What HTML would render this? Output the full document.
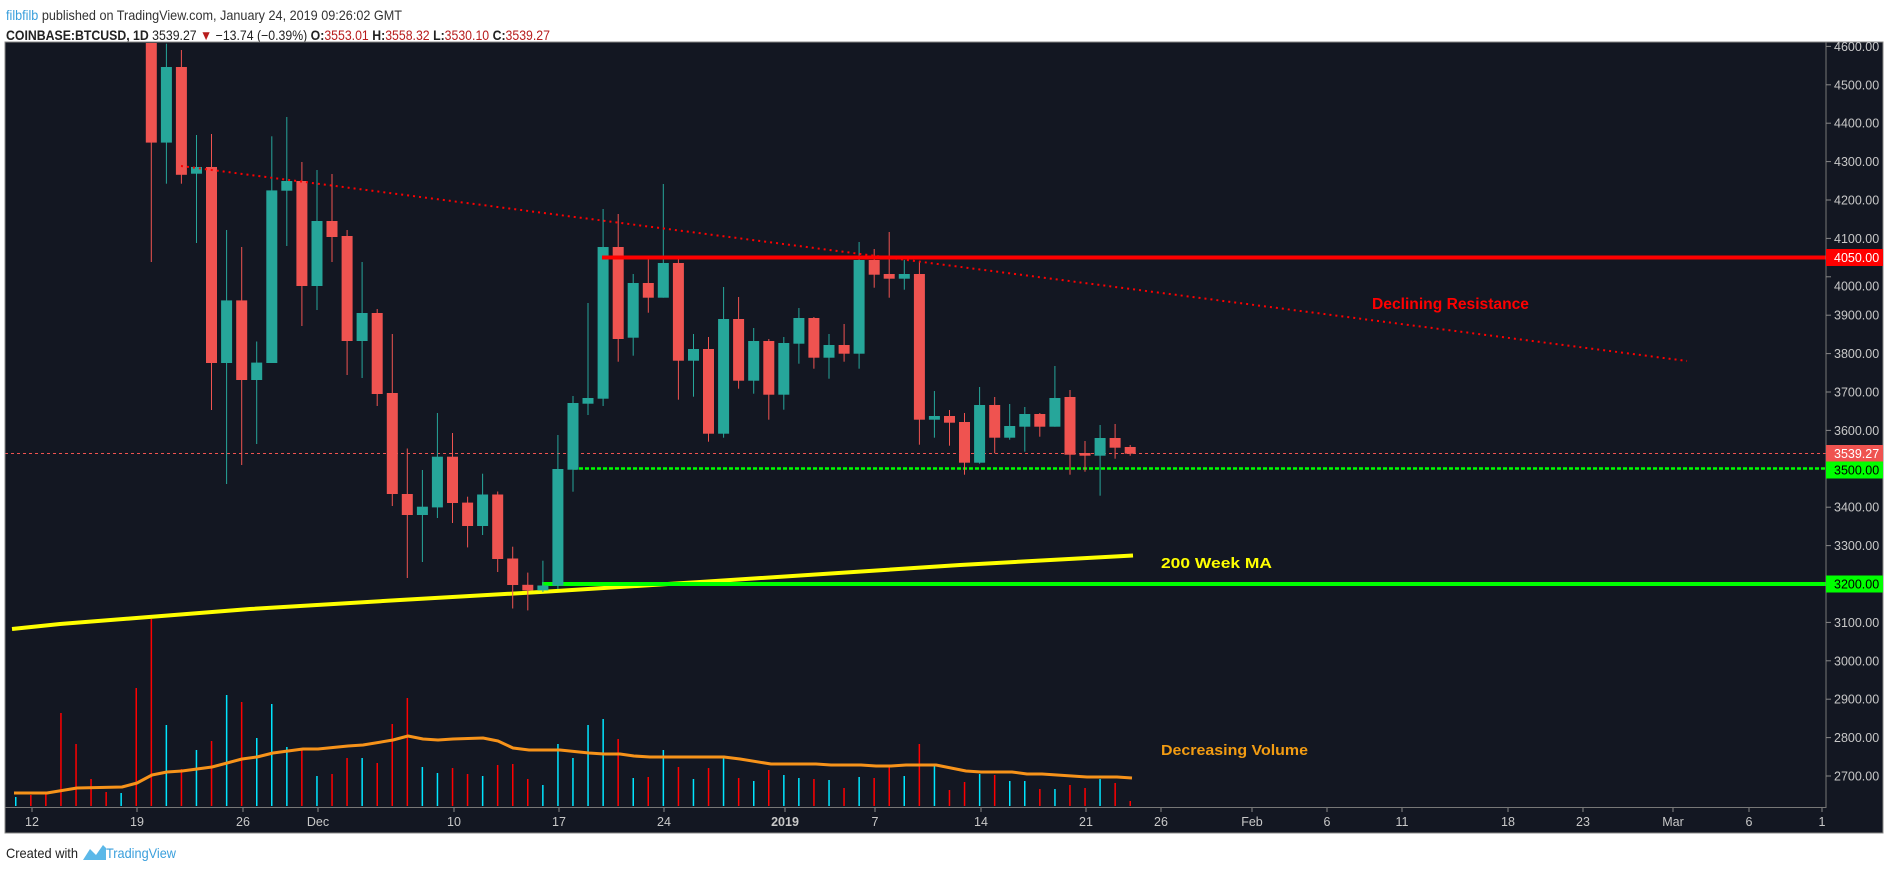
<!DOCTYPE html>
<html><head><meta charset="utf-8"><style>
html,body{margin:0;padding:0;background:#fff;}
svg{display:block;}
</style></head><body>
<svg id="s" width="1889" height="869" viewBox="0 0 1889 869" xmlns="http://www.w3.org/2000/svg" font-family="Liberation Sans, sans-serif">
<rect x="0" y="0" width="1889" height="869" fill="#ffffff"/>
<!-- header -->
<text x="6" y="20" font-size="14" textLength="396" lengthAdjust="spacingAndGlyphs"><tspan fill="#3a9fdc">filbfilb</tspan><tspan fill="#333"> published on TradingView.com, January 24, 2019 09:26:02 GMT</tspan></text>
<text x="6" y="40" font-size="13.5" textLength="544" lengthAdjust="spacingAndGlyphs" fill="#222"><tspan font-weight="bold">COINBASE:BTCUSD, 1D</tspan> 3539.27 <tspan fill="#b71c1c">▼</tspan> −13.74 (−0.39%) <tspan font-weight="bold">O:</tspan><tspan fill="#b71c1c">3553.01</tspan> <tspan font-weight="bold">H:</tspan><tspan fill="#b71c1c">3558.32</tspan> <tspan font-weight="bold">L:</tspan><tspan fill="#b71c1c">3530.10</tspan> <tspan font-weight="bold">C:</tspan><tspan fill="#b71c1c">3539.27</tspan></text>
<!-- panel -->
<rect x="5" y="42" width="1878" height="791" fill="#131722" stroke="#888" stroke-width="1"/>
<line x1="1826" y1="42" x2="1826" y2="808" stroke="#777" stroke-width="1"/>
<line x1="5" y1="807.5" x2="1826" y2="807.5" stroke="#777" stroke-width="1"/>
<defs><clipPath id="c"><rect x="5.5" y="43" width="1820" height="764"/></clipPath></defs>
<g id="plot" clip-path="url(#c)"></g>
<g id="axis" font-size="12.5" fill="#c8c8c8"></g>
<g id="time" font-size="12.5" fill="#c8c8c8" text-anchor="middle"></g>
<!-- annotations -->
<text x="1372" y="309" font-size="16" font-weight="bold" fill="#ff0000" textLength="157" lengthAdjust="spacingAndGlyphs">Declining Resistance</text>
<text x="1161" y="568" font-size="15" font-weight="bold" fill="#ffff00" textLength="111" lengthAdjust="spacingAndGlyphs">200 Week MA</text>
<text x="1161" y="755" font-size="15" font-weight="bold" fill="#f39c12" textLength="147" lengthAdjust="spacingAndGlyphs">Decreasing Volume</text>
<!-- footer -->
<text x="6" y="858" font-size="14" fill="#222" textLength="72" lengthAdjust="spacingAndGlyphs">Created with</text>
<path d="M83 860 L90 849 L96 855 L103 845 L106 848 L106 860 Z" fill="#5bb8e8"/>
<text x="106" y="858" font-size="14" fill="#3a9fdc" textLength="70" lengthAdjust="spacingAndGlyphs">TradingView</text>
</svg>
<script>
var NS="http://www.w3.org/2000/svg";
function el(p,t,a,txt){var e=document.createElementNS(NS,t);for(var k in a)e.setAttribute(k,a[k]);if(txt!==undefined)e.textContent=txt;p.appendChild(e);return e;}
var plot=document.getElementById('plot'),axis=document.getElementById('axis'),time=document.getElementById('time');
var G='#26a69a',R='#ef5350';
// [color, bodyTop, bodyBot, wickTop, wickBot]
var C=[
['r',30,142.6,30,262],['g',67,142.6,43.7,183.7],['r',67,174.8,50,183.7],['g',167,173.7,135,243],
['r',167,363,134,410],['g',300.4,363,230,484],['r',300.4,380,247,465],['g',362.6,380,341.5,444],
['g',190.4,363,136.3,363],['g',181,190.7,117,246],['r',181,286,162,326],['g',221,286,170,310],
['r',221,237,174,262],['r',236,341,230,375],['g',313,341,262,378],['r',313,394,309,406],
['r',393,494,334,506],['r',494,515,448.5,578],['g',506.7,515,470,562],['g',456.7,507.4,413,518],
['r',456.7,503,433,523],['r',502.6,526,496.7,547.4],['g',494.5,526,473.7,535],['r',494.5,559,491.5,572],
['r',558.5,585,546.7,608.5],['r',584.8,590.4,572.6,610.4],['g',585.5,590.4,560.7,592],
['g',469,585.7,435,589],['g',403,469.7,396,491.7],['g',398,403.7,303,415],['g',247,398.7,209,406],
['r',247,339,214,361.7],['g',283,337.7,274,355.7],['r',283,297.7,259,312.7],['g',263,297.7,184,297.7],
['r',263,360.7,259,399.7],['g',349,360.7,334,396.7],['r',349,433.7,337,441.7],['g',319,433.7,287,437.7],
['r',319,380.7,297,388.7],['g',341,380.7,328,393.7],['r',341,394.7,339,419.7],['g',343,394.7,337,409.7],
['g',318,343.7,308,363.7],['r',318,357.7,317,368.7],['g',345,357.7,334,378.7],['r',345,353.7,324,361.7],
['g',260,353.7,242,368.7],['r',260,274.7,249,287.7],['r',274,278.7,232,297.7],['g',274,278.7,260,289.7],
['r',274,419.7,262,444.7],['g',416,419.7,391,437.7],['r',416,422.7,410,445.7],
['r',422,462.7,413,474.7],['g',405,462.7,387,463.7],['r',405,437.7,397,453.3],['g',426,437.7,404,439.7],
['g',414,426.7,407,451.7],['r',414,426.7,413,436.7],['g',398,426.7,366,426.7],['r',397,454.7,390,474.7],
['r',453,455.7,441,471.7],['g',438,455.7,425,495.7],['r',438,447.7,424,458.7],['r',447,453.7,445,455.7]];
function cx(i){return 151.3+15.06*i;}
// volume bars (k=-9..65): [color, topY]
var V=[['c',797],['r',795],['r',793],['r',713],['r',744],['r',779],['r',792],['c',793],['r',688],['r',619],
['c',725],['r',769],['c',750],['r',741],['c',695],['r',702],['c',738],['c',704],['c',747],['r',750],
['c',776],['r',774],['r',758],['c',758],['r',763],['r',724],['r',698],['c',767],['c',773],['r',768],
['r',774],['c',776],['r',765],['r',764],['r',779],['c',785],['c',744],
['c',758],['c',725],['c',719],['r',739],['c',778],['r',777],['c',750],['r',767],['c',779],['r',768],
['c',758],['r',778],['c',781],['r',770],['c',775],['c',778],['r',779],['c',780],['r',788],['c',777],
['r',778],['r',767],['c',776],['r',744],['c',765],['r',790],['r',782],['c',774],['r',775],['c',781],
['c',781],['r',789],['c',789],['r',785],['r',788],['c',779],['r',783],['r',801]];
for(var j=0;j<V.length;j++){var x=cx(j-9);el(plot,'rect',{x:(x-0.75).toFixed(1),y:V[j][1],width:1.5,height:(806-V[j][1]),fill:V[j][0]=='c'?'#00e5ff':'#ff0000'});}
// volume MA
var ma=[[14,793],[47,793],[77,788],[122,787],[137,783],[152,775],[167,772],[182,771],[212,767],[242,759],[257,757],[273,753],[303,749],[318,749],[348,746],[363,745],[393,740],[408,736],[423,739],[438,740],[453,739],[483,738],[498,741],[513,748],[529,750],[560,750],[589,753],[604,754],[620,754],[634,756],[650,757],[724,757],[740,759],[771,764],[786,764],[816,764],[831,765],[861,765],[876,766],[891,766],[906,765],[936,765],[951,768],[966,771],[981,772],[1012,772],[1027,774],[1042,774],[1087,777],[1117,777],[1132,778]];
el(plot,'polyline',{points:ma.map(function(p){return p.join(',')}).join(' '),fill:'none',stroke:'#f7931a',"stroke-width":3,"stroke-linejoin":"round"});
// yellow MA
el(plot,'polyline',{points:'12,629 60,624 130,618.5 250,609 400,600 540,592 700,582 960,565 1133,555.5',fill:'none',stroke:'#ffff00',"stroke-width":4});
// horizontal levels
el(plot,'line',{x1:5,y1:453.5,x2:1826,y2:453.5,stroke:'#ef5350',"stroke-width":1,"stroke-dasharray":"3,3"});
el(plot,'line',{x1:573,y1:468.5,x2:1826,y2:468.5,stroke:'#00ff00',"stroke-width":2.5,"stroke-dasharray":"4,2"});
el(plot,'line',{x1:542,y1:584,x2:1826,y2:584,stroke:'#00ff00',"stroke-width":4});
// candles
for(var i=0;i<C.length;i++){var c=C[i],x=cx(i),col=c[0]=='g'?G:R;
el(plot,'rect',{x:(x-0.5).toFixed(1),y:c[3],width:1,height:(c[4]-c[3]),fill:col});
el(plot,'rect',{x:(x-5.5).toFixed(1),y:c[1],width:11,height:Math.max(1,c[2]-c[1]),fill:col});}
el(plot,'line',{x1:602,y1:257.5,x2:1826,y2:257.5,stroke:'#ff0000',"stroke-width":4});
el(plot,'line',{x1:181,y1:166,x2:1687,y2:361,stroke:'#ff0000',"stroke-width":2,"stroke-dasharray":"2,4"});
// price axis
for(var p=4600;p>=2700;p-=100){var y=200+(4200-p)*0.384;
el(axis,'line',{x1:1826,y1:y,x2:1831,y2:y,stroke:'#888'});
if(p==4000)y+=9;
el(axis,'text',{x:1834,y:y+4.5},p.toFixed(2));}
function lab(y,bg,fg,t){el(axis,'rect',{x:1826,y:y-8.5,width:57,height:17,fill:bg});el(axis,'text',{x:1834,y:y+4.5,fill:fg},t);}
lab(257.5,'#ff0000','#ffffff','4050.00');
lab(453.5,'#ef5350','#ffffff','3539.27');
lab(470,'#00ff00','#000000','3500.00');
lab(584,'#00ff00','#000000','3200.00');
// time axis
var T=[['12',32],['19',137],['26',243],['Dec',318],['10',454],['17',559],['24',664],['2019',785],['7',875],['14',981],['21',1086],['26',1161],['Feb',1252],['6',1327],['11',1402],['18',1508],['23',1583],['Mar',1673],['6',1749],['1',1822]];
T.forEach(function(t){el(time,'line',{x1:t[1],y1:808,x2:t[1],y2:812,stroke:'#888'});var e=el(time,'text',{x:t[1],y:826},t[0]);if(t[0]=='2019')e.setAttribute('font-weight','bold');});
</script>
</body></html>
